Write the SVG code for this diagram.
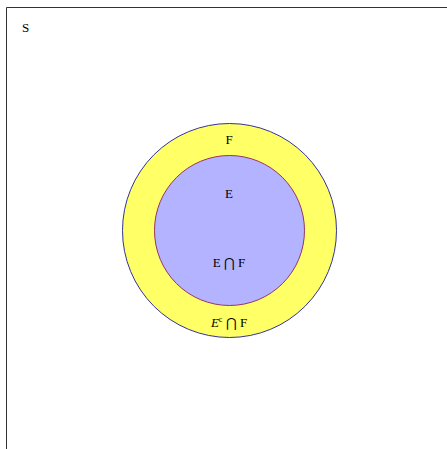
<svg xmlns="http://www.w3.org/2000/svg" width="447" height="449" viewBox="0 0 447 449">
<style>
text{font-family:"Liberation Serif","Times New Roman",serif;font-size:13px;fill:#000;}
.c{text-anchor:middle;}
</style>
<rect width="447" height="449" fill="#fff"/>
<g id="frame"><path d="M6.5,449 V7.5 H447" fill="none" stroke="#333" stroke-width="1"/></g>
<text x="22" y="32">S</text>
<g id="F">
<circle cx="229.5" cy="230.5" r="107" fill="#ffff66" stroke="#333399" stroke-width="1"/>
<text class="c" x="229" y="144">F</text>
<text class="c" x="229" y="327"><tspan font-style="italic">E</tspan><tspan font-size="8" dy="-5">c</tspan><tspan dy="5"> ⋂ F</tspan></text>
</g>
<g id="E">
<circle cx="229.5" cy="230.5" r="75" fill="#b3b3ff" stroke="#993366" stroke-width="1"/>
<text class="c" x="229" y="198">E</text>
<text class="c" x="229" y="267">E ⋂ F</text>
</g>
</svg>
